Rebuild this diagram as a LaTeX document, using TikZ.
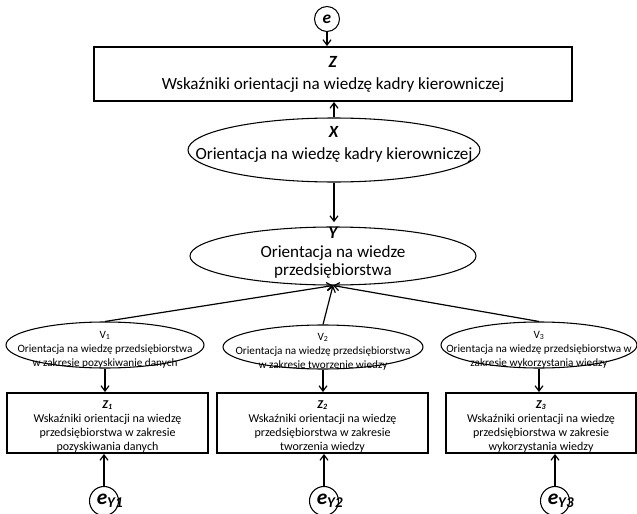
\documentclass[tikz,border=0pt]{standalone}
\usepackage{fontspec}
\setmainfont{Carlito}
\usetikzlibrary{arrows.meta,shapes.geometric,positioning}
\newlength{\pxu}
\setlength{\pxu}{0.75pt}

\begin{document}
\begin{tikzpicture}[x=0.75pt,y=-0.75pt,>={Straight Barb[length=4pt,width=6pt]},
  box/.style={draw,line width=1.4pt,inner sep=0pt,align=center},
  oval/.style={draw,ellipse,line width=0.8pt,inner sep=0pt},
  err/.style={draw,circle,line width=0.8pt,inner sep=0pt,minimum size=25*\pxu},
  big/.style={font=\fontsize{12.8}{16.5}\selectfont},
  small/.style={font=\fontsize{9}{10.5}\selectfont},
  smaller/.style={font=\fontsize{8.4}{10.5}\selectfont},
  tag/.style={font=\fontsize{13}{13}\selectfont\bfseries\itshape},
  link/.style={line width=0.9pt,->}]
  \useasboundingbox (0,0) rectangle (637,514);
  \node[err,font=\fontsize{13}{13}\selectfont\bfseries\itshape] (e) at (327,19) {e};
  \node[box,big,minimum width=478*\pxu,minimum height=54*\pxu] (Z) at (333,74)
     {\textbf{\textit{Z}}\\Wskaźniki orientacji na wiedzę kadry kierowniczej};
  \node[oval,minimum width=292*\pxu,minimum height=64*\pxu,
     label={[big,align=center,yshift=4.5pt]center:{\textbf{\textit{X}}\\Orientacja na wiedzę kadry kierowniczej}}] (X) at (334,150) {};
  \node[oval,minimum width=286*\pxu,minimum height=58*\pxu,
     label={[name=Ylab,tag,anchor=center,yshift=-4.5pt]north:{Y}},
     label={[font=\fontsize{12.8}{13}\selectfont,align=center,yshift=-4.5pt]center:{Orientacja na wiedze\\przedsiębiorstwa}}] (Y) at (333,256) {};
  % three indicator columns
  \node[oval,minimum width=198*\pxu,minimum height=46*\pxu,
     label={[smaller,align=center,yshift=-3.5pt]center:{V\textsubscript{1}\\Orientacja na wiedzę przedsiębiorstwa\\w zakresie pozyskiwanie danych}}] (V1) at (105,345) {};
  \node[oval,minimum width=200*\pxu,minimum height=44*\pxu,
     label={[smaller,align=center,yshift=-3.5pt]center:{V\textsubscript{2}\\Orientacja na wiedzę przedsiębiorstwa\\w zakresie tworzenie wiedzy}}] (V2) at (323,347) {};
  \node[oval,minimum width=196*\pxu,minimum height=46*\pxu,
     label={[smaller,align=center,yshift=-3.5pt]center:{V\textsubscript{3}\\Orientacja na wiedzę przedsiębiorstwa w\\zakresie wykorzystania wiedzy}}] (V3) at (539,345) {};
  \node[box,minimum width=201*\pxu,minimum height=60*\pxu,
     label={[small,align=center,yshift=-2.5pt]center:{\textbf{\textit{Z\textsubscript{1}}}\\Wskaźniki orientacji na wiedzę\\przedsiębiorstwa w zakresie\\pozyskiwania danych}}] (Z1) at (107.5,423) {};
  \node[box,minimum width=211*\pxu,minimum height=60*\pxu,
     label={[small,align=center,yshift=-2.5pt]center:{\textbf{\textit{Z\textsubscript{2}}}\\Wskaźniki orientacji na wiedzę\\przedsiębiorstwa w zakresie\\tworzenia wiedzy}}] (Z2) at (322.5,423) {};
  \node[box,minimum width=190*\pxu,minimum height=60*\pxu,
     label={[small,align=center,yshift=-2.5pt]center:{\textbf{\textit{Z\textsubscript{3}}}\\Wskaźniki orientacji na wiedzę\\przedsiębiorstwa w zakresie\\wykorzystania wiedzy}}] (Z3) at (541,423) {};
  \foreach \i/\x in {1/104,2/324,3/555}
    \node[err,minimum size=29*\pxu,
      label={[font=\fontsize{16}{16}\selectfont\bfseries\itshape,xshift=4.5pt]center:{e\textsubscript{Y\i}}}] (E\i) at (\x,501) {};
  \draw[link] (e) -- (e |- Z.north);
  \draw[link] (X.north) -- (X.north |- Z.south);
  \draw[link] (X.south) -- (X.south |- Ylab.north);
  \foreach \i in {1,2,3}{
    \draw[link] (V\i.north) -- (Y.south);
    \draw[link] (V\i.south) -- (V\i.south |- Z\i.north);
    \draw[link] (E\i) -- (E\i |- Z\i.south);
  }
\end{tikzpicture}
\end{document}
